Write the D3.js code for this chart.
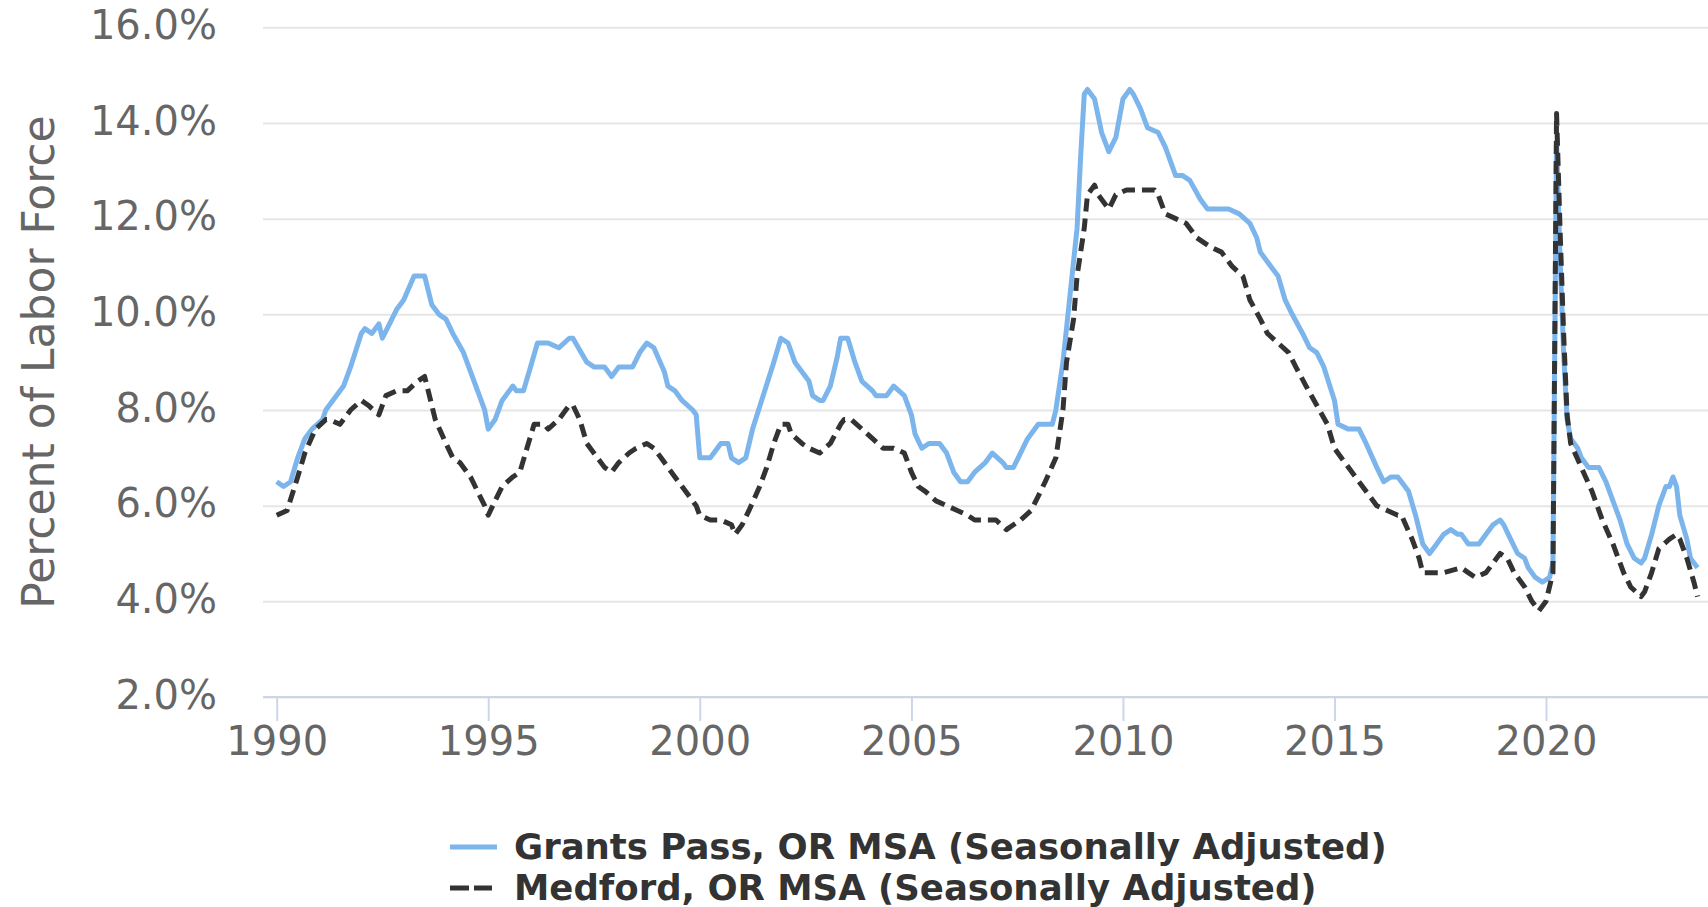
<!DOCTYPE html>
<html>
	<head>
		<meta charset="utf-8">
		<script src="https://d3js.org/d3.v7.min.js"></script>
		<style>
			body { margin: 0; background: #ffffff; }
			text { font-family: "DejaVu Sans", sans-serif; }
		</style>
	</head>
	<body>
		<div id="chart"></div>
		<script>
			/* Grants Pass, OR MSA - readings, month and percent */
			var gpMonths = [
				"1990-01","1990-03","1990-05","1990-07","1990-09","1990-11",
				"1991-02","1991-03","1991-08","1991-10",
				"1992-01","1992-02","1992-04","1992-06","1992-07","1992-09","1992-11",
				"1993-01","1993-04","1993-07","1993-09","1993-11",
				"1994-01","1994-03","1994-06","1994-08","1994-12",
				"1995-01","1995-03","1995-05","1995-08","1995-09","1995-11",
				"1996-01","1996-03","1996-06","1996-09","1996-12",
				"1997-01","1997-05","1997-07","1997-10","1997-11","1997-12",
				"1998-02","1998-06","1998-08","1998-10","1998-12",
				"1999-03","1999-04","1999-06","1999-08","1999-11","1999-12",
				"2000-01","2000-04","2000-07","2000-09","2000-10","2000-12",
				"2001-02","2001-04","2001-07","2001-10","2001-12",
				"2002-02","2002-04","2002-06","2002-08","2002-09","2002-11","2002-12",
				"2003-02","2003-04","2003-05","2003-07","2003-09","2003-11",
				"2004-02","2004-03","2004-06","2004-08","2004-11",
				"2005-01","2005-02","2005-04","2005-06","2005-09","2005-11",
				"2006-01","2006-03","2006-05","2006-07","2006-10","2006-12",
				"2007-03","2007-04","2007-06","2007-08","2007-10",
				"2008-01","2008-02","2008-05","2008-06","2008-08","2008-10","2008-12",
				"2009-01","2009-02","2009-03","2009-05","2009-07","2009-09","2009-11",
				"2010-01","2010-03","2010-04","2010-06","2010-08","2010-11",
				"2011-01","2011-04","2011-06","2011-08","2011-11",
				"2012-01","2012-04","2012-07","2012-10",
				"2013-01","2013-03","2013-04","2013-07","2013-09","2013-11",
				"2014-01","2014-04","2014-06","2014-08","2014-10",
				"2015-01","2015-02","2015-05","2015-08","2015-10",
				"2016-01","2016-03","2016-05","2016-07","2016-10","2016-12",
				"2017-02","2017-04","2017-06","2017-08","2017-10","2017-12",
				"2018-01","2018-03","2018-06","2018-08","2018-10","2018-12",
				"2019-01","2019-03","2019-05","2019-07","2019-08","2019-10","2019-12",
				"2020-02","2020-03","2020-04","2020-05","2020-06","2020-07","2020-08","2020-10","2020-11",
				"2021-01","2021-04","2021-06","2021-08","2021-10","2021-12",
				"2022-02","2022-04","2022-05","2022-07","2022-09","2022-11","2022-12",
				"2023-01","2023-02","2023-03","2023-05","2023-06","2023-08"
			];
			var gpValues = [
				6.5, 6.4, 6.5, 7.0, 7.4, 7.6,
				7.8, 8.0, 8.5, 8.9,
				9.6, 9.7, 9.6, 9.8, 9.5, 9.8, 10.1,
				10.3, 10.8, 10.8, 10.2, 10.0,
				9.9, 9.6, 9.2, 8.8, 8.0,
				7.6, 7.8, 8.2, 8.5, 8.4, 8.4,
				8.9, 9.4, 9.4, 9.3, 9.5,
				9.5, 9.0, 8.9, 8.9, 8.8, 8.7,
				8.9, 8.9, 9.2, 9.4, 9.3,
				8.8, 8.5, 8.4, 8.2, 8.0, 7.9,
				7.0, 7.0, 7.3, 7.3, 7.0, 6.9,
				7.0, 7.6, 8.3, 9.0, 9.5,
				9.4, 9.0, 8.8, 8.6, 8.3, 8.2, 8.2,
				8.5, 9.1, 9.5, 9.5, 9.0, 8.6,
				8.4, 8.3, 8.3, 8.5, 8.3,
				7.9, 7.5, 7.2, 7.3, 7.3, 7.1,
				6.7, 6.5, 6.5, 6.7, 6.9, 7.1,
				6.9, 6.8, 6.8, 7.1, 7.4,
				7.7, 7.7, 7.7, 8.0, 9.0, 10.4, 11.8,
				13.3, 14.6, 14.7, 14.5, 13.8, 13.4, 13.7,
				14.5, 14.7, 14.6, 14.3, 13.9, 13.8,
				13.5, 12.9, 12.9, 12.8, 12.4,
				12.2, 12.2, 12.2, 12.1,
				11.9, 11.6, 11.3, 11.0, 10.8, 10.3,
				10.0, 9.6, 9.3, 9.2, 8.9,
				8.2, 7.7, 7.6, 7.6, 7.3,
				6.8, 6.5, 6.6, 6.6, 6.3, 5.8,
				5.2, 5.0, 5.2, 5.4, 5.5, 5.4,
				5.4, 5.2, 5.2, 5.4, 5.6, 5.7,
				5.6, 5.3, 5.0, 4.9, 4.7, 4.5, 4.4,
				4.5, 4.8, 13.6, 11.2, 9.2, 7.8, 7.4, 7.2, 7.0,
				6.8, 6.8, 6.5, 6.1, 5.7, 5.2,
				4.9, 4.8, 4.9, 5.4, 6.0, 6.4, 6.4,
				6.6, 6.4, 5.8, 5.3, 4.9, 4.7
			];

			/* Medford, OR MSA - readings, month and percent */
			var mfMonths = [
				"1990-01","1990-04","1990-07","1990-09","1990-12",
				"1991-03","1991-04","1991-07","1991-10",
				"1992-01","1992-03","1992-06","1992-08","1992-11",
				"1993-02","1993-05","1993-07","1993-08","1993-10",
				"1994-01","1994-03","1994-05","1994-08","1994-10","1994-12",
				"1995-01","1995-03","1995-05","1995-08","1995-10","1995-12",
				"1996-02","1996-05","1996-06","1996-09","1996-12",
				"1997-01","1997-03","1997-05","1997-08","1997-10","1997-12",
				"1998-02","1998-05","1998-07","1998-10","1998-12",
				"1999-02","1999-04","1999-07","1999-10","1999-12",
				"2000-01","2000-04","2000-07","2000-10","2000-11",
				"2001-01","2001-03","2001-06","2001-08","2001-10","2001-12",
				"2002-02","2002-03","2002-06","2002-08","2002-11",
				"2003-02","2003-05","2003-06","2003-08","2003-11",
				"2004-02","2004-05","2004-08","2004-11",
				"2005-01","2005-03","2005-05","2005-08","2005-11",
				"2006-02","2006-05","2006-07","2006-10",
				"2007-01","2007-04","2007-06","2007-08","2007-11",
				"2008-01","2008-03","2008-06","2008-08","2008-09","2008-11","2008-12",
				"2009-02","2009-03","2009-05","2009-06","2009-09","2009-11",
				"2010-02","2010-04","2010-10","2010-11",
				"2011-01","2011-04","2011-07","2011-10",
				"2012-02","2012-05","2012-08","2012-11",
				"2013-01","2013-04","2013-06","2013-09","2013-12",
				"2014-02","2014-05","2014-08","2014-11",
				"2015-01","2015-04","2015-07","2015-10",
				"2016-01","2016-04","2016-07","2016-08","2016-11",
				"2017-01","2017-02","2017-08",
				"2018-01","2018-03","2018-05","2018-08","2018-10","2018-12",
				"2019-02","2019-04","2019-07","2019-09","2019-11",
				"2020-01","2020-03","2020-04","2020-05","2020-06","2020-07","2020-08","2020-11",
				"2021-02","2021-05","2021-08","2021-11",
				"2022-01","2022-04","2022-05","2022-07","2022-09","2022-12",
				"2023-02","2023-03","2023-05","2023-07","2023-08"
			];
			var mfValues = [
				5.8, 5.9, 6.6, 7.1, 7.6,
				7.8, 7.8, 7.7, 8.0,
				8.2, 8.1, 7.9, 8.3, 8.4,
				8.4, 8.6, 8.7, 8.4, 7.8,
				7.3, 7.0, 6.9, 6.6, 6.3, 6.0,
				5.8, 6.1, 6.4, 6.6, 6.7, 7.2,
				7.7, 7.7, 7.6, 7.8, 8.1,
				8.1, 7.8, 7.3, 7.0, 6.8, 6.7,
				6.9, 7.1, 7.2, 7.3, 7.2,
				7.0, 6.8, 6.5, 6.2, 6.0,
				5.8, 5.7, 5.7, 5.6, 5.4,
				5.6, 5.9, 6.4, 6.8, 7.3, 7.7,
				7.7, 7.5, 7.3, 7.2, 7.1,
				7.3, 7.7, 7.8, 7.8, 7.6,
				7.4, 7.2, 7.2, 7.1,
				6.7, 6.4, 6.3, 6.1, 6.0,
				5.9, 5.8, 5.7, 5.7,
				5.7, 5.5, 5.6, 5.7, 5.9,
				6.2, 6.5, 7.0, 8.0, 9.0, 9.9, 10.8,
				11.8, 12.5, 12.7, 12.5, 12.2, 12.5,
				12.6, 12.6, 12.6, 12.5,
				12.1, 12.0, 11.9, 11.6,
				11.4, 11.3, 11.0, 10.8,
				10.3, 9.9, 9.6, 9.4, 9.2,
				8.9, 8.5, 8.1, 7.7,
				7.2, 6.9, 6.6, 6.3,
				6.0, 5.9, 5.8, 5.8, 5.3,
				4.9, 4.6, 4.6,
				4.7, 4.6, 4.5, 4.6, 4.8, 5.0,
				4.9, 4.6, 4.3, 4.0, 3.8,
				4.0, 4.6, 14.2, 11.8, 9.6, 7.9, 7.3, 6.8,
				6.3, 5.7, 5.2, 4.6,
				4.3, 4.1, 4.2, 4.6, 5.1, 5.3,
				5.4, 5.3, 4.9, 4.4, 4.1
			];

			var yTicks = [2, 4, 6, 8, 10, 12, 14, 16];
			var xTickYears = [1990, 1995, 2000, 2005, 2010, 2015, 2020];
			var seriesNames = ["Grants Pass, OR MSA (Seasonally Adjusted)", "Medford, OR MSA (Seasonally Adjusted)"];

			var width = 1708, height = 907;
			var plotLeft = 263, plotRight = 1708;

			var parseMonth = d3.timeParse("%Y-%m");

			var svg = d3.select("#chart").append("svg")
				.attr("width", width)
				.attr("height", height)
				.style("display", "block")
				.style("background", "#ffffff");

			var x = d3.scaleTime()
				.domain([new Date(1990, 0, 1), new Date(2020, 0, 1)])
				.range([276.7, 1546]);

			var y = d3.scaleLinear()
				.domain([2, 16])
				.range([697, 27.3]);

			/* eje y con lineas de rejilla */
			var yAxis = svg.append("g")
				.attr("transform", "translate(" + plotLeft + ",0)")
				.call(d3.axisLeft(y)
					.tickValues(yTicks)
					.tickSize(-(plotRight - plotLeft))
					.tickPadding(46)
					.tickFormat(function(d){ return d3.format(".1f")(d) + "%"; }));
			yAxis.select(".domain").remove();
			yAxis.selectAll(".tick line")
				.attr("stroke", "#e6e6e6")
				.attr("stroke-width", 2);
			yAxis.selectAll(".tick text")
				.attr("fill", "#666666")
				.style("font-size", "40px")
				.attr("dy", "0.28em");

			/* eje x */
			var xAxis = svg.append("g")
				.attr("transform", "translate(0," + y(2) + ")")
				.call(d3.axisBottom(x)
					.tickValues(xTickYears.map(function(yr){ return new Date(yr, 0, 1); }))
					.tickSize(24)
					.tickPadding(6)
					.tickFormat(d3.timeFormat("%Y")));
			xAxis.select(".domain").remove();
			xAxis.selectAll(".tick line")
				.attr("stroke", "#ccd6eb")
				.attr("stroke-width", 2);
			xAxis.selectAll(".tick text")
				.attr("fill", "#666666")
				.style("font-size", "40px");
			xAxis.append("line")
				.attr("x1", plotLeft)
				.attr("x2", plotRight)
				.attr("stroke", "#ccd6eb")
				.attr("stroke-width", 2);

			svg.append("text")
				.attr("transform", "translate(54," + ((y(2) + y(16)) / 2) + ") rotate(-90)")
				.attr("text-anchor", "middle")
				.attr("fill", "#666666")
				.style("font-size", "44px")
				.text("Percent of Labor Force");

			/* series */
			var series = [
				{ name: seriesNames[0], months: gpMonths, values: gpValues, color: "#7cb5ec", dash: null },
				{ name: seriesNames[1], months: mfMonths, values: mfValues, color: "#333333", dash: "13,7" }
			];

			var line = d3.line()
				.x(function(d){ return x(d.date); })
				.y(function(d){ return y(d.value); });

			series.forEach(function(s){
				var pts = s.months.map(function(m, i){ return { date: parseMonth(m), value: s.values[i] }; });
				svg.append("path")
					.datum(pts)
					.attr("fill", "none")
					.attr("stroke", s.color)
					.attr("stroke-width", 5)
					.attr("stroke-linejoin", "round")
					.attr("stroke-dasharray", s.dash)
					.attr("d", line);
			});

			/* leyenda */
			var legend = svg.append("g");
			var rows = legend.selectAll("g.row")
				.data(series)
				.enter()
				.append("g")
				.attr("class", "row")
				.attr("transform", function(d, i){ return "translate(0," + (847 + i * 41) + ")"; });

			rows.append("line")
				.attr("x1", 450)
				.attr("x2", function(d){ return d.dash ? 492 : 497; })
				.attr("stroke", function(d){ return d.color; })
				.attr("stroke-width", 5)
				.attr("stroke-dasharray", function(d){ return d.dash ? "19,5" : null; });

			rows.append("text")
				.attr("x", 514)
				.attr("dy", "0.35em")
				.attr("fill", "#333333")
				.style("font-size", "35.5px")
				.style("font-weight", "bold")
				.text(function(d){ return d.name; });
		</script>
	</body>
</html>
